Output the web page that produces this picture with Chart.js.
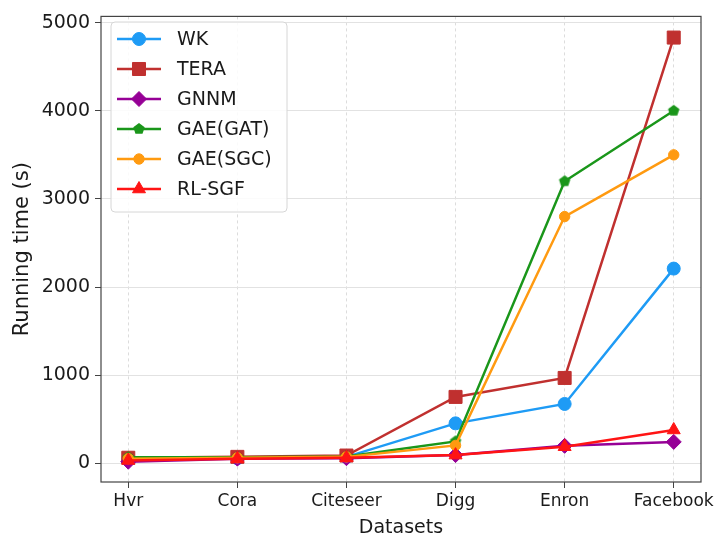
<!DOCTYPE html>
<html>
<head>
<meta charset="utf-8">
<script src="https://cdn.jsdelivr.net/npm/chart.js@4/dist/chart.umd.min.js"></script>
<style>
  html, body { margin:0; padding:0; background:#fff; }
  #box { width:728px; height:549px; }
</style>
</head>
<body>
<div id="box"><canvas id="grafico" width="728" height="549"></canvas></div>
<script>
// ===============================
// DADOS
// ===============================
const datasetsNomes = ["Hvr", "Cora", "Citeseer", "Digg", "Enron", "Facebook"];
const yTicks = [0, 1000, 2000, 3000, 4000, 5000];

const wk     = [50, 60, 75, 455, 675, 2210];
const tera   = [65, 75, 90, 755, 970, 4830];
const gnnm   = [20, 55, 60, 95, 200, 245];
const gaeGat = [70, 70, 80, 250, 3200, 4000];
const gaeSgc = [55, 65, 75, 205, 2800, 3500];
const rlSgf  = [35, 55, 65, 95, 190, 380];

const FONTE = "'DejaVu Sans', sans-serif";

// ===============================
// MARCADOR PENTAGONO
// ===============================
function criarPentagono(cor, r){
  const c = document.createElement("canvas");
  const s = Math.ceil(r * 2 + 2);
  c.width = s; c.height = s;
  const g = c.getContext("2d");
  g.fillStyle = cor;
  g.beginPath();
  for(let k = 0; k < 5; k++){
    const a = -Math.PI / 2 + k * 2 * Math.PI / 5;
    const px = s / 2 + r * Math.cos(a);
    const py = s / 2 + r * Math.sin(a);
    if(k === 0) g.moveTo(px, py); else g.lineTo(px, py);
  }
  g.closePath();
  g.fill();
  return c;
}

// ===============================
// SERIES
// ===============================
const series = [
  { label:"WK",       data:wk,     cor:"#1E9BF5", estilo:"circle",   raio:6.5 },
  { label:"TERA",     data:tera,   cor:"#C0302F", estilo:"rect",     raio:9.2 },
  { label:"GNNM",     data:gnnm,   cor:"#960096", estilo:"rectRot",  raio:7.5 },
  { label:"GAE(GAT)", data:gaeGat, cor:"#1A961A", estilo:"pentagon", raio:6   },
  { label:"GAE(SGC)", data:gaeSgc, cor:"#FF9A10", estilo:"circle",   raio:5.2 },
  { label:"RL-SGF",   data:rlSgf,  cor:"#FF1414", estilo:"triangle", raio:7.5 }
];

series.forEach(s => {
  if(s.estilo === "pentagon") s.estilo = criarPentagono(s.cor, s.raio);
});

// ===============================
// PLUGINS
// ===============================
const moldura = {
  id:"moldura",
  afterDraw(chart){
    const {ctx, chartArea:a} = chart;
    ctx.save();
    ctx.strokeStyle = "#444";
    ctx.lineWidth = 1.2;
    ctx.strokeRect(a.left, a.top, a.right - a.left, a.bottom - a.top);
    ctx.restore();
  }
};

function marcador(ctx, s, x, y){
  if(Chart.helpers && Chart.helpers.drawPoint){
    ctx.fillStyle = s.cor;
    ctx.strokeStyle = s.cor;
    ctx.lineWidth = 1;
    Chart.helpers.drawPoint(ctx, { pointStyle:s.estilo, radius:s.raio, rotation:0, borderWidth:1 }, x, y);
  }
}

const legendaInterna = {
  id:"legendaInterna",
  afterDraw(chart){
    const ctx = chart.ctx;
    const x0 = 111, y0 = 22, w = 176, h = 190, r = 4;
    ctx.save();
    ctx.fillStyle = "rgba(255,255,255,0.85)";
    ctx.strokeStyle = "#d6d6d6";
    ctx.lineWidth = 1;
    ctx.beginPath();
    ctx.roundRect(x0, y0, w, h, r);
    ctx.fill();
    ctx.stroke();

    ctx.font = "19px " + FONTE;
    ctx.textBaseline = "middle";
    ctx.textAlign = "left";
    series.forEach((s, i) => {
      const y = 39 + i * 30;
      ctx.strokeStyle = s.cor;
      ctx.lineWidth = 2.5;
      ctx.beginPath();
      ctx.moveTo(117, y);
      ctx.lineTo(161, y);
      ctx.stroke();
      marcador(ctx, s, 139, y);
      ctx.fillStyle = "#1a1a1a";
      ctx.fillText(s.label, 177, y + 1);
    });
    ctx.restore();
  }
};

// ===============================
// GRAFICO
// ===============================
const ctx = document.getElementById("grafico");

new Chart(ctx, {
  type:"line",
  data:{
    datasets: series.map((s, i) => ({
      label: s.label,
      data: s.data.map((v, k) => ({ x:k, y:v })),
      borderColor: s.cor,
      backgroundColor: s.cor,
      pointBackgroundColor: s.cor,
      pointBorderColor: s.cor,
      pointBorderWidth: 1,
      pointStyle: s.estilo,
      pointRadius: s.raio,
      borderWidth: 2.5,
      tension: 0,
      order: series.length - 1 - i,
      clip: false
    }))
  },
  options:{
    responsive:false,
    animation:false,
    devicePixelRatio:1,
    layout:{ padding:{ top:12, right:27, left:0, bottom:0 } },
    plugins:{
      legend:{ display:false },
      tooltip:{ enabled:false }
    },
    scales:{
      x:{
        type:"linear",
        min:-0.25,
        max:5.25,
        afterBuildTicks: sc => { sc.ticks = datasetsNomes.map((n, i) => ({ value:i })); },
        afterFit: sc => { sc.height = 67; },
        ticks:{
          autoSkip:false,
          maxRotation:0,
          padding:3,
          color:"#1a1a1a",
          font:{ family:FONTE, size:17 },
          callback: v => datasetsNomes[v]
        },
        grid:{ color:"#dcdcdc", lineWidth:1, tickColor:"#444", tickLength:6, tickBorderDash:[] },
        border:{ display:false, dash:[3,3] },
        title:{
          display:true,
          text:"Datasets",
          color:"#1a1a1a",
          font:{ family:FONTE, size:19 },
          padding:{ top:0, bottom:10 }
        }
      },
      y:{
        min:-210,
        max:5070,
        afterBuildTicks: sc => { sc.ticks = yTicks.map(v => ({ value:v })); },
        afterFit: sc => { sc.width = 101; },
        ticks:{
          padding:5,
          color:"#1a1a1a",
          font:{ family:FONTE, size:19 },
          callback: v => String(v)
        },
        grid:{ color:"#e2e2e2", lineWidth:1, tickColor:"#444", tickLength:6 },
        border:{ display:false },
        title:{
          display:true,
          text:"Running time (s)",
          color:"#1a1a1a",
          font:{ family:FONTE, size:21 },
          padding:{ top:10, bottom:0 }
        }
      }
    }
  },
  plugins:[moldura, legendaInterna]
});
</script>
</body>
</html>
